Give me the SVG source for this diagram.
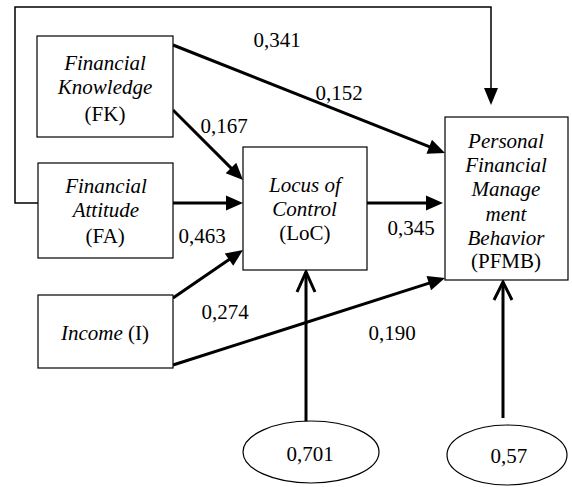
<svg xmlns="http://www.w3.org/2000/svg" width="572" height="487" viewBox="0 0 572 487">
<g id="connectors">
<g fill="none" stroke="#000" stroke-width="3">
<polyline stroke-width="1.5" points="38,203 15,203 15,7 491,7 491,90"/>
<line x1="173" y1="45" x2="431.06" y2="147.47"/>
<line x1="173" y1="110" x2="232.4" y2="169.4"/>
<line x1="173" y1="203" x2="228" y2="203"/>
<line x1="367" y1="203" x2="428" y2="203"/>
<line x1="173" y1="298" x2="230.6" y2="258.5"/>
<line x1="173" y1="365" x2="430.7" y2="282.6"/>
<line x1="306" y1="423" x2="306" y2="272"/>
<polyline points="297,292 306,272 315,292"/>
<line x1="503" y1="418" x2="503" y2="282"/>
<polyline points="494,300 503,282 512,300"/>
</g>
<g fill="#000">
<path d="M484,88 L491,105 L498,88 z"/>
<path d="M426.43,153.7 L445,153 L431.97,139.76 z"/>
<path d="M225.68,173.28 L243,180 L236.28,162.68 z"/>
<path d="M226,195.5 L243,203 L226,210.5 z"/>
<path d="M426,195.5 L443,203 L426,210.5 z"/>
<path d="M233.22,265.8 L243,250 L224.74,253.43 z"/>
<path d="M431.09,290.32 L445,278 L426.53,276.04 z"/>
</g>
<g font-family="'Times New Roman', 'Liberation Serif', serif" font-size="21">
<text x="253.4" y="47">0,341</text>
<text x="315.4" y="100">0,152</text>
<text x="200.4" y="133">0,167</text>
<text x="178.4" y="243">0,463</text>
<text x="387.4" y="235">0,345</text>
<text x="201.4" y="319">0,274</text>
<text x="368.4" y="340">0,190</text>
</g>
</g>
<g id="FK" font-family="'Times New Roman', 'Liberation Serif', serif" font-size="21">
<rect fill="#fff" stroke="#000" stroke-width="1.2" x="37" y="36" width="136" height="101"/>
<text font-style="italic" x="64.2" y="70">Financial</text>
<text font-style="italic" x="57.8" y="94">Knowledge</text>
<text x="84.6" y="121">(FK)</text>
</g>
<g id="FA" font-family="'Times New Roman', 'Liberation Serif', serif" font-size="21">
<rect fill="#fff" stroke="#000" stroke-width="1.2" x="38" y="163" width="135" height="95"/>
<text font-style="italic" x="65.2" y="193">Financial</text>
<text font-style="italic" x="72.7" y="217">Attitude</text>
<text x="85.6" y="243">(FA)</text>
</g>
<g id="I" font-family="'Times New Roman', 'Liberation Serif', serif" font-size="21">
<rect fill="#fff" stroke="#000" stroke-width="1.2" x="38" y="295" width="135" height="73"/>
<text x="61" y="340"><tspan font-style="italic">Income</tspan> (I)</text>
</g>
<g id="LoC" font-family="'Times New Roman', 'Liberation Serif', serif" font-size="21">
<rect fill="#fff" stroke="#000" stroke-width="1.2" x="243" y="147" width="124" height="123"/>
<text font-style="italic" x="269.1" y="192">Locus of</text>
<text font-style="italic" x="272.3" y="216">Control</text>
<text x="279.3" y="240">(LoC)</text>
</g>
<g id="PFMB" font-family="'Times New Roman', 'Liberation Serif', serif" font-size="21">
<rect fill="#fff" stroke="#000" stroke-width="1.2" x="445" y="117" width="123" height="163"/>
<text font-style="italic" x="468.1" y="148">Personal</text>
<text font-style="italic" x="465.2" y="172">Financial</text>
<text font-style="italic" x="471.6" y="196">Manage</text>
<text font-style="italic" x="485.6" y="221">ment</text>
<text font-style="italic" x="467.5" y="245">Behavior</text>
<text x="471" y="268">(PFMB)</text>
</g>
<g id="E1" font-family="'Times New Roman', 'Liberation Serif', serif" font-size="21">
<ellipse fill="#fff" stroke="#000" stroke-width="1.2" cx="311" cy="452" rx="68" ry="31"/>
<text x="286.4" y="461">0,701</text>
</g>
<g id="E2" font-family="'Times New Roman', 'Liberation Serif', serif" font-size="21">
<ellipse fill="#fff" stroke="#000" stroke-width="1.2" cx="507" cy="455" rx="60" ry="30"/>
<text x="490.6" y="463">0,57</text>
</g>
</svg>
